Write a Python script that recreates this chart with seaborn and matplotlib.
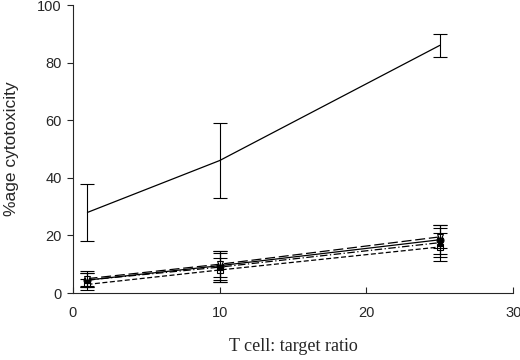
import numpy as np
import pandas as pd
import seaborn as sns
import matplotlib.pyplot as plt

# T cell : target ratios
ratio = [1, 10, 25]

# % cytotoxicity per condition, with error (half-width)
main_mean = [28, 46, 86]
main_err = [10, 13, 4]

ctrl_a_mean = [4.5, 9.5, 18.5]
ctrl_a_err = [2.5, 5, 5]
ctrl_b_mean = [3, 8, 16]
ctrl_b_err = [2, 4, 5]
ctrl_c_mean = [4.5, 9, 17.5]
ctrl_c_err = [2.5, 5, 5]
ctrl_d_mean = [5, 10, 19.5]
ctrl_d_err = [2.5, 4.5, 4]

sns.set_style("ticks")
plt.rcParams['font.family'] = ['Liberation Sans', 'DejaVu Sans']

fig = plt.figure(figsize=(5.2, 3.6), dpi=100)
ax = fig.add_axes([0.14, 0.186, 0.847, 0.8])

series = [
    ("main", main_mean, main_err, "-", None, "k"),
    ("a", ctrl_a_mean, ctrl_a_err, "-", "o", "k"),
    ("b", ctrl_b_mean, ctrl_b_err, (0, (4, 2)), "s", "white"),
    ("c", ctrl_c_mean, ctrl_c_err, (0, (6, 2, 1, 2)), "^", "k"),
    ("d", ctrl_d_mean, ctrl_d_err, (0, (8, 3)), "v", "white"),
]

for name, mean, err, ls, mk, fc in series:
    df = pd.DataFrame({"ratio": ratio, "cyto": mean})
    sns.lineplot(data=df, x="ratio", y="cyto", ax=ax, color="k", lw=0.9,
                 linestyle=ls, marker=mk, markersize=5, markerfacecolor=fc,
                 markeredgecolor="k", markeredgewidth=0.8)
    ax.errorbar(ratio, mean, yerr=err, fmt="none", ecolor="k",
                elinewidth=0.8, capsize=5, capthick=0.8)

ax.set_xlim(0, 30)
ax.set_ylim(0, 100)
ax.set_xticks([0, 10, 20, 30])
ax.set_yticks([0, 20, 40, 60, 80, 100])
ax.tick_params(axis="x", direction="in", length=4, width=0.8, labelsize=10.5, pad=9)
ax.tick_params(axis="y", direction="out", length=4, width=0.8, labelsize=10.5, pad=4)
for s in ["left", "bottom"]:
    ax.spines[s].set_linewidth(0.8)
sns.despine(ax=ax)

ax.set_xlabel("T cell: target ratio", family="Liberation Serif", fontsize=13, labelpad=13)
ax.set_ylabel("%age cytotoxicity", fontsize=12.5, labelpad=13)

fig.savefig("out.png", dpi=100)
